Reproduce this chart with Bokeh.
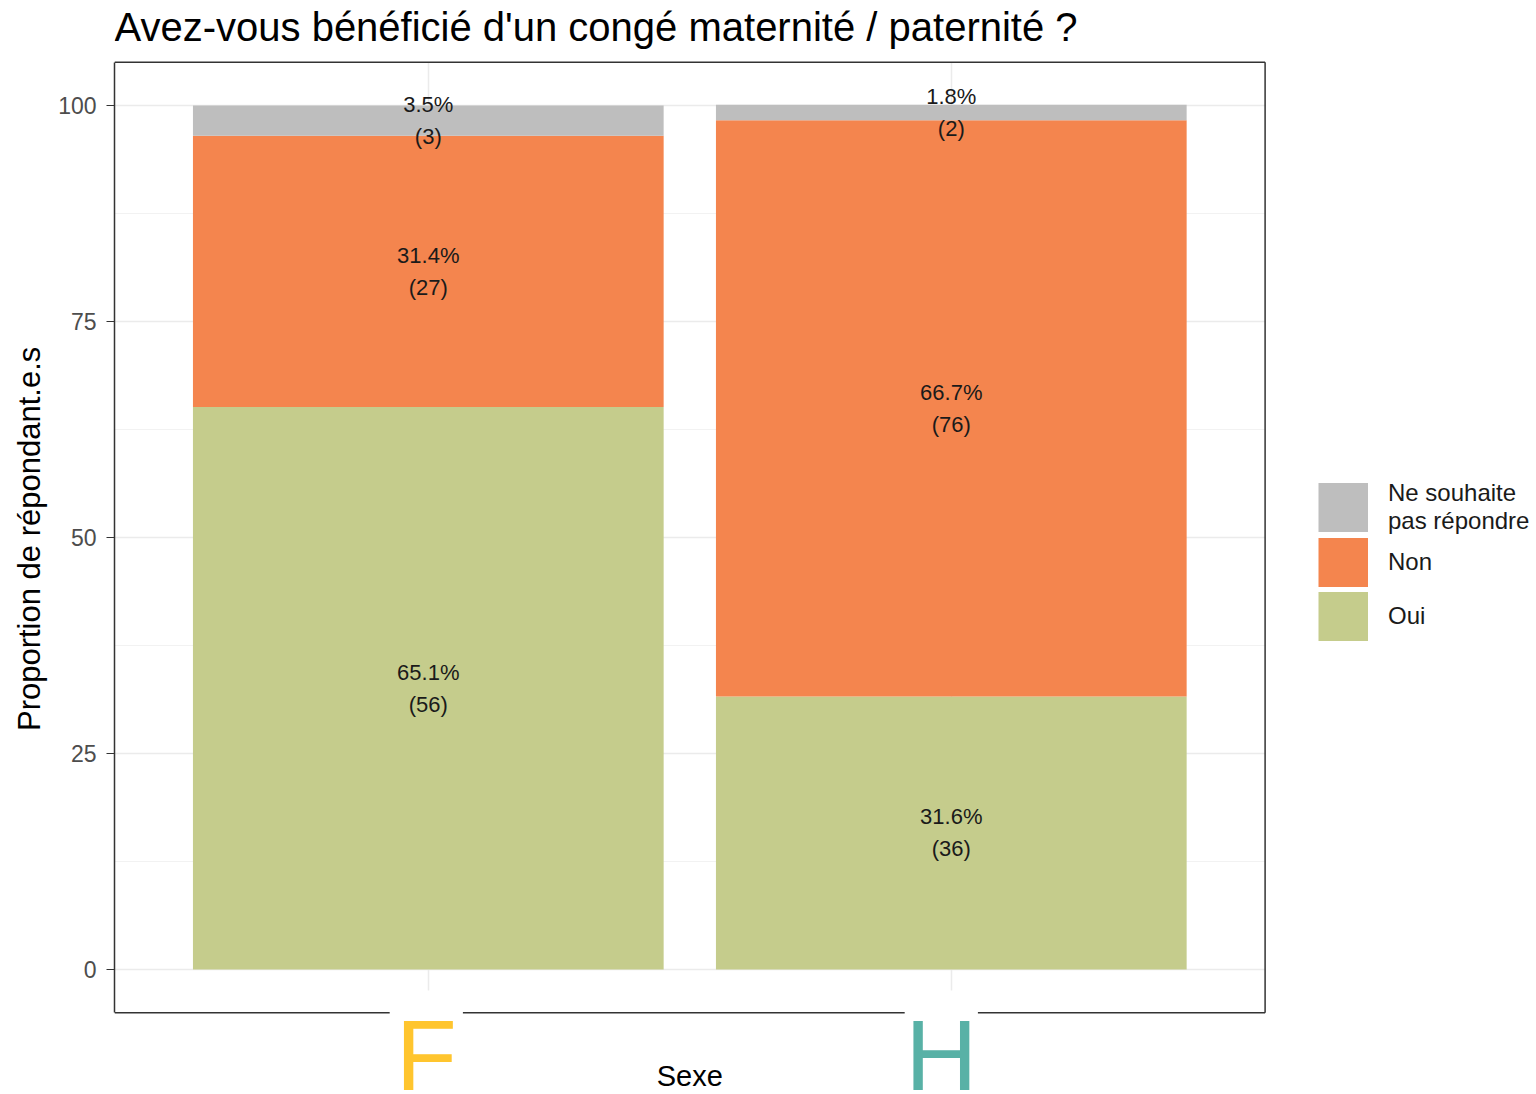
from bokeh.plotting import figure
from bokeh.models import ColumnDataSource, Range1d, FixedTicker, Legend, LegendItem, Grid
from bokeh.embed import file_html
from bokeh.resources import INLINE
from bokeh.core.properties import value

# ---------------- data ----------------
title_text = "Avez-vous bénéficié d'un congé maternité / paternité ?"
x_title = "Sexe"
y_title = "Proportion de répondant.e.s"
categories = ["F", "H"]
category_colors = ["#FFC52E", "#58B1A6"]
series_keys = ["oui", "non", "nsp"]
series_labels = ["Oui", "Non", "Ne souhaite\npas répondre"]
series_colors = ["#C5CC8C", "#F4854E", "#BEBEBE"]
oui_pct = [65.1, 31.6]
non_pct = [31.4, 66.7]
nsp_pct = [3.5, 1.8]
oui_n = [56, 36]
non_n = [27, 76]
nsp_n = [3, 2]
y_ticks = [0, 25, 50, 75, 100]
y_minor = [12.5, 37.5, 62.5, 87.5]

# ---------------- layout constants (pixels / data extents) ----------------
W, H = 1536, 1094
FONT = "Liberation Sans"
LEFT = 114                 # frame left (panel left)
PX_X = 523.0               # px per category unit
PX_Y = 8.64                # px per percent
Y0_PX = 969.0              # screen y of value 0
letter_dx_px = [-2, -10]   # nudges of the big category letters
panel_x = (0.4, len(categories) + 0.6)
panel_y = (-5.0, 105.0)

xpos = [i + 1 for i in range(len(categories))]
x_start = panel_x[0]
x_end = x_start + (W - LEFT) / PX_X
y_end = Y0_PX / PX_Y
y_start = -(H - Y0_PX) / PX_Y


def ydata(px):
    return (Y0_PX - px) / PX_Y


p = figure(width=W, height=H, title=None, x_axis_type=None,
           x_range=Range1d(x_start, x_end), y_range=Range1d(y_start, y_end),
           output_backend="svg", toolbar_location=None,
           min_border_left=LEFT, min_border_right=0,
           min_border_top=0, min_border_bottom=0)
p.background_fill_color = "white"
p.border_fill_color = "white"
p.outline_line_color = None

# grids limited to the panel
xg = Grid(dimension=0, ticker=FixedTicker(ticks=xpos), cross_bounds=panel_y,
          grid_line_color="#EBEBEB", grid_line_width=1.5)
p.add_layout(xg)
p.ygrid.ticker = FixedTicker(ticks=y_ticks, minor_ticks=y_minor)
p.ygrid.cross_bounds = panel_x
p.ygrid.bounds = panel_y
p.ygrid.grid_line_color = "#EBEBEB"
p.ygrid.grid_line_width = 1.5
p.ygrid.minor_grid_line_color = "#F2F2F2"
p.ygrid.minor_grid_line_width = 1

# y axis (its line is the left border of the panel)
p.yaxis.bounds = panel_y
p.yaxis.ticker = FixedTicker(ticks=y_ticks, minor_ticks=y_minor)
p.yaxis.axis_label = "\u00a0\u00a0" + y_title
p.yaxis.axis_label_text_font = FONT
p.yaxis.axis_label_text_font_size = "31px"
p.yaxis.axis_label_text_font_style = "normal"
p.yaxis.axis_label_text_color = "#000000"
p.yaxis.axis_label_standoff = 8
p.yaxis.major_label_text_font = FONT
p.yaxis.major_label_text_font_size = "23px"
p.yaxis.major_label_text_color = "#4D4D4D"
p.yaxis.major_label_standoff = 10
p.yaxis.axis_line_color = "#333333"
p.yaxis.axis_line_width = 1.5
p.yaxis.major_tick_line_color = "#333333"
p.yaxis.major_tick_out = 8
p.yaxis.major_tick_in = 0
p.yaxis.minor_tick_line_color = None

# stacked bars
src = ColumnDataSource(dict(x=xpos, cat=categories, oui=oui_pct, non=non_pct, nsp=nsp_pct))
renderers = p.vbar_stack(series_keys, x="x", width=0.9, color=series_colors,
                         line_color=None, source=src)

# value labels
lx, ly, lpct, lcnt = [], [], [], []
pct_series = [oui_pct, non_pct, nsp_pct]
cnt_series = [oui_n, non_n, nsp_n]
for i in range(len(categories)):
    base = 0.0
    for ps, cs in zip(pct_series, cnt_series):
        lx.append(xpos[i])
        ly.append(base + ps[i] / 2)
        lpct.append(f"{ps[i]:.1f}%")
        lcnt.append(f"({cs[i]})")
        base += ps[i]
lsrc = ColumnDataSource(dict(x=lx, y=ly, pct=lpct, cnt=lcnt))
common = dict(source=lsrc, text_align="center", text_baseline="middle",
              text_font=value(FONT), text_font_size="22px", text_color="#1A1A1A")
p.text(x="x", y="y", text="pct", y_offset=-16, **common)
p.text(x="x", y="y", text="cnt", y_offset=16, **common)

# panel border: top, right, bottom
p.segment(x0=[panel_x[0], panel_x[1], panel_x[0]], y0=[panel_y[1], panel_y[1], panel_y[0]],
          x1=[panel_x[1], panel_x[1], panel_x[1]], y1=[panel_y[1], panel_y[0], panel_y[0]],
          line_color="#333333", line_width=1.5)

# white patches and large category letters under the panel
lpos = [x + dx / PX_X for x, dx in zip(xpos, letter_dx_px)]
half = 0.07
p.quad(left=[x - half for x in lpos], right=[x + half for x in lpos],
       top=[ydata(990)] * len(lpos), bottom=[y_start] * len(lpos),
       fill_color="white", line_color=None)
csrc = ColumnDataSource(dict(x=lpos, y=[ydata(1054)] * len(lpos), t=categories, c=category_colors))
p.text(x="x", y="y", text="t", text_color="c", source=csrc, text_align="center",
       text_baseline="middle", text_font=value(FONT), text_font_size="100px")

# axis title below and plot title
p.text(x=[(xpos[0] + xpos[-1]) / 2], y=[ydata(1075)], text=[x_title], text_align="center",
       text_baseline="middle", text_font=value(FONT), text_font_size="29px", text_color="#000000")
p.text(x=[panel_x[0]], y=[ydata(26)], text=[title_text], text_align="left",
       text_baseline="middle", text_font=value(FONT), text_font_size="40px",
       text_color="#000000")

# legend swatches: thick line glyphs (not visible in the plot: NaN data) give full boxes
nan = float("nan")
swatches = [p.line(x=[nan], y=[nan], line_color=c, line_width=49, line_cap="butt")
            for c in series_colors]
items = [LegendItem(label=series_labels[k], renderers=[swatches[k]]) for k in (2, 1, 0)]
legend = Legend(items=items, location=(1204, 451), orientation="vertical",
                glyph_width=50, glyph_height=54, spacing=0, label_standoff=20,
                padding=0, margin=0, border_line_color=None, background_fill_alpha=0,
                label_text_font=FONT, label_text_font_size="24px",
                label_text_line_height=1.1, label_text_color="#1A1A1A")
p.add_layout(legend)

open("out.html", "w").write(file_html(p, INLINE))
